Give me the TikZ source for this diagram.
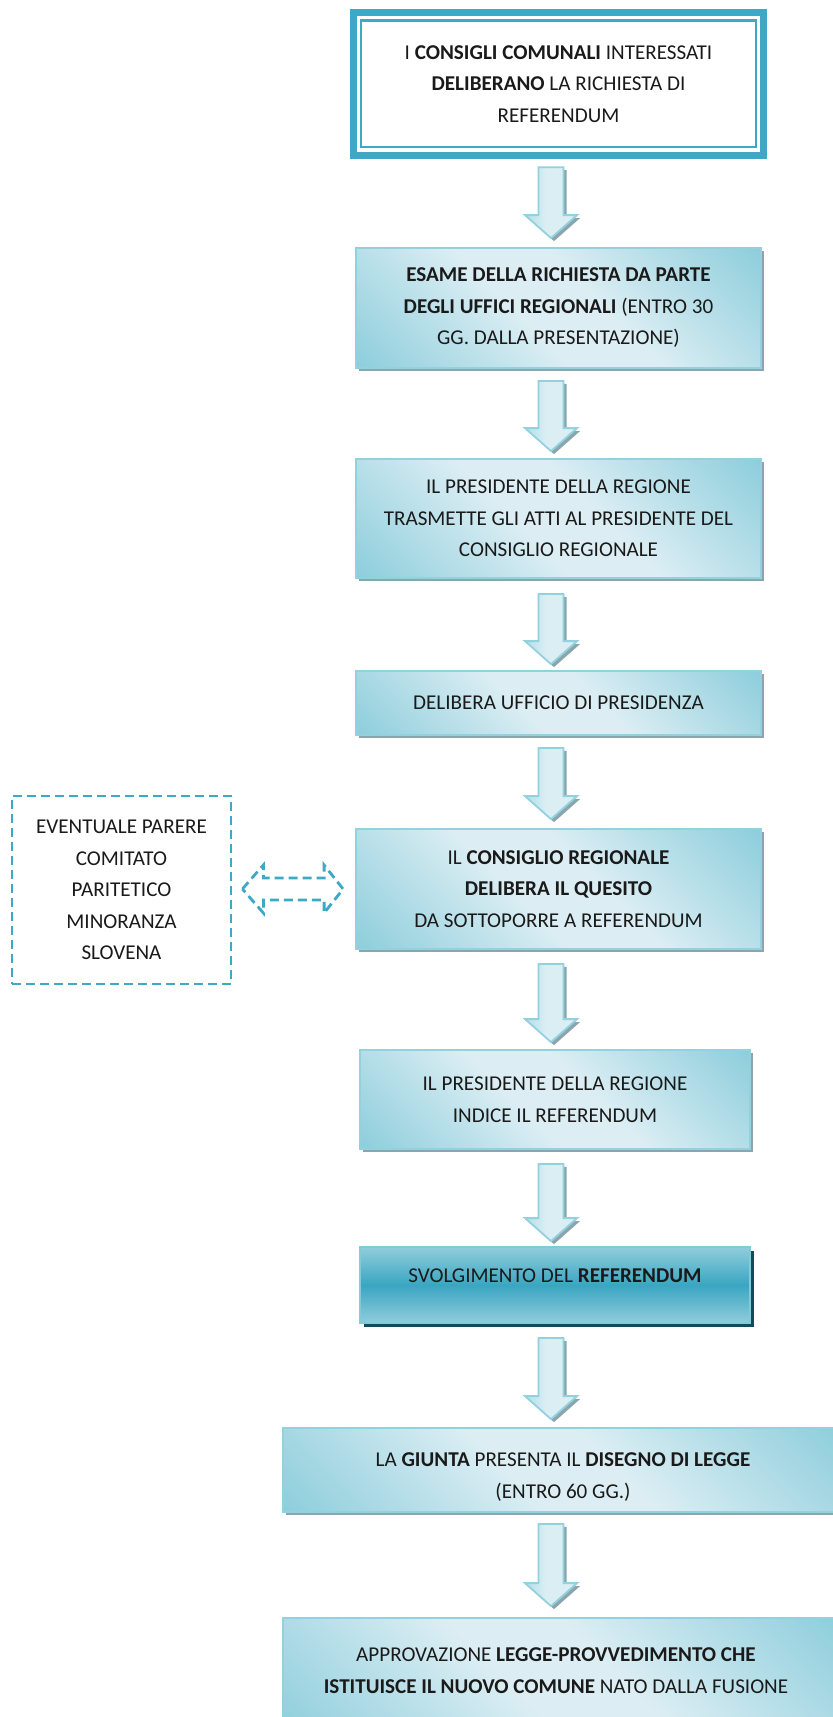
\documentclass[tikz,border=0pt]{standalone}
\usepackage{fontspec}
\setmainfont{Carlito}
\usetikzlibrary{calc,shadows}
\definecolor{dkc}{HTML}{8ECEDC}
\definecolor{ltc}{HTML}{DCEEF4}
\definecolor{edgec}{HTML}{93D1DF}
\definecolor{shc}{HTML}{8AA5AC}
\definecolor{mainc}{HTML}{3EA9C6}
\definecolor{midc}{HTML}{3AA6C2}
\definecolor{svltc}{HTML}{90CDDB}
\definecolor{darksh}{HTML}{0F4D5B}
\definecolor{arrlt}{HTML}{DAEEF4}
\definecolor{arrdk}{HTML}{B3DEE9}
\definecolor{txtc}{HTML}{1A1A1A}
\pgfdeclareverticalshading{boxsh}{100bp}{color(0bp)=(dkc); color(15bp)=(dkc); color(44bp)=(ltc); color(56bp)=(ltc); color(85bp)=(dkc); color(100bp)=(dkc)}
\pgfdeclareverticalshading{svsh}{100bp}{color(0bp)=(svltc); color(25bp)=(svltc); color(50bp)=(midc); color(75bp)=(svltc); color(100bp)=(svltc)}
\pgfdeclarehorizontalshading{arrsh}{100bp}{color(0bp)=(arrdk); color(25bp)=(arrdk); color(45bp)=(arrlt); color(75bp)=(arrlt); color(100bp)=(arrlt)}
\tikzset{
  base/.style={font=\fontsize{21.1}{31.5}\selectfont, align=center, inner sep=0pt, text=txtc},
  gbox/.style={base, shade, shading=boxsh, shading angle=-45, draw=edgec, line width=1.8pt,
    drop shadow={shadow xshift=3pt, shadow yshift=-3pt, fill=shc, opacity=1}},
  svbox/.style={base, shade, shading=svsh, draw=edgec!80!mainc, line width=1.8pt,
    drop shadow={shadow xshift=4pt, shadow yshift=-4pt, fill=darksh, opacity=1}},
  dashbox/.style={base, draw=mainc, line width=2.8pt, dash pattern=on 9pt off 5pt},
  arrline/.style={draw=edgec, line width=1.8pt, line join=miter},
}
\newcommand\arrowpath[4]{([shift={(#1-12.5pt,#2)}]#3) -- ([shift={(#1+12.5pt,#2)}]#3) -- ([shift={(#1+12.5pt,#2+23pt)}]#4) -- ([shift={(#1+26pt,#2+23pt)}]#4) -- ([shift={(#1,#2)}]#4) -- ([shift={(#1-26pt,#2+23pt)}]#4) -- ([shift={(#1-12.5pt,#2+23pt)}]#4) -- cycle}
\newcommand\flowarrow[4]{%
  \path let \p1=(#1.south), \p2=(#2.north) in
    coordinate (#1#2t) at (551pt,{\y1-#3})
    coordinate (#1#2b) at (551pt,{\y2+#4});
  \fill[shc] \arrowpath{3pt}{-3pt}{#1#2t}{#1#2b};
  \shade[shading=arrsh, arrline] \arrowpath{0pt}{0pt}{#1#2t}{#1#2b};
}
\begin{document}
\begin{tikzpicture}[x=1pt,y=-1pt]
\useasboundingbox (0,0) rectangle (833,1717);
\clip (0,0) rectangle (833,1717);
\fill[white] (0,0) rectangle (833,1717);

% box 1
\node[base, minimum width=417pt, minimum height=150pt] (b1) at (558.5,84)
  {I \textbf{CONSIGLI COMUNALI} INTERESSATI\\ \textbf{DELIBERANO} LA RICHIESTA DI\\ REFERENDUM};
\draw[mainc, line width=7pt] ([shift={(3.5pt,-3.5pt)}]b1.north west) rectangle ([shift={(-3.5pt,3.5pt)}]b1.south east);
\draw[mainc, line width=2.5pt] ([shift={(11.3pt,-11.7pt)}]b1.north west) rectangle ([shift={(-11pt,12pt)}]b1.south east);

\node[gbox, minimum width=405pt, minimum height=120pt] (b2) at (558.5,308)
  {\textbf{ESAME DELLA RICHIESTA DA PARTE}\\ \textbf{DEGLI UFFICI REGIONALI} (ENTRO 30\\ GG. DALLA PRESENTAZIONE)};
\node[gbox, minimum width=405pt, minimum height=119pt] (b3) at (558.5,518.5)
  {IL PRESIDENTE DELLA REGIONE\\ TRASMETTE GLI ATTI AL PRESIDENTE DEL\\ CONSIGLIO REGIONALE};
\node[gbox, minimum width=405pt, minimum height=64pt] (b4) at (558.5,703)
  {DELIBERA UFFICIO DI PRESIDENZA};
\node[gbox, minimum width=405pt, minimum height=120pt] (b5) at (558.5,889)
  {IL \textbf{CONSIGLIO REGIONALE}\\ \textbf{DELIBERA IL QUESITO}\\ DA SOTTOPORRE A REFERENDUM};
\node[dashbox, minimum width=219pt, minimum height=188pt] (dash) at (121.5,890)
  {EVENTUALE PARERE\\ COMITATO\\ PARITETICO\\ MINORANZA\\ SLOVENA};
\node[gbox, minimum width=390pt, minimum height=99pt] (b6) at (555,1099.5)
  {IL PRESIDENTE DELLA REGIONE\\ INDICE IL REFERENDUM};
\node[svbox, minimum width=390pt, minimum height=76pt] (b7) at (555,1285)
  {\raisebox{9pt}[\height][\depth]{SVOLGIMENTO DEL \textbf{REFERENDUM}}};
\node[gbox, minimum width=560pt, minimum height=84pt] (b8) at (563,1470)
  {\raisebox{-6pt}[\height][\depth]{\begin{tabular}{@{}c@{}}LA \textbf{GIUNTA} PRESENTA IL \textbf{DISEGNO DI LEGGE}\\ (ENTRO 60 GG.)\end{tabular}}};
\node[gbox, minimum width=560pt, minimum height=122pt] (b9) at (563,1679)
  {\raisebox{8pt}[\height][\depth]{\begin{tabular}{@{}c@{}}APPROVAZIONE \textbf{LEGGE-PROVVEDIMENTO CHE}\hspace*{14pt}\\ \textbf{ISTITUISCE IL NUOVO COMUNE} NATO DALLA FUSIONE\hspace*{14pt}\end{tabular}}};

% flow arrows
\flowarrow{b1}{b2}{8pt}{9pt}
\flowarrow{b2}{b3}{12pt}{7pt}
\flowarrow{b3}{b4}{15pt}{6pt}
\flowarrow{b4}{b5}{12pt}{9pt}
\flowarrow{b5}{b6}{14pt}{7pt}
\flowarrow{b6}{b7}{14pt}{5pt}
\flowarrow{b7}{b8}{14pt}{8pt}
\flowarrow{b8}{b9}{11pt}{11pt}

% dashed double arrow
\path let \p1=(dash.east), \p2=(b5.west) in
  coordinate (dl) at ({\x1+10pt},\y2)
  coordinate (dr) at ({\x2-12pt},\y2);
\draw[mainc, line width=2.8pt, dash pattern=on 9pt off 5pt, line join=miter]
  (dl) -- ([shift={(21pt,24pt)}]dl) -- ([shift={(21pt,11pt)}]dl) -- ([shift={(-19pt,11pt)}]dr)
  -- ([shift={(-19pt,24pt)}]dr) -- (dr) -- ([shift={(-19pt,-24pt)}]dr) -- ([shift={(-19pt,-11pt)}]dr)
  -- ([shift={(21pt,-11pt)}]dl) -- ([shift={(21pt,-24pt)}]dl) -- cycle;
\end{tikzpicture}
\end{document}
